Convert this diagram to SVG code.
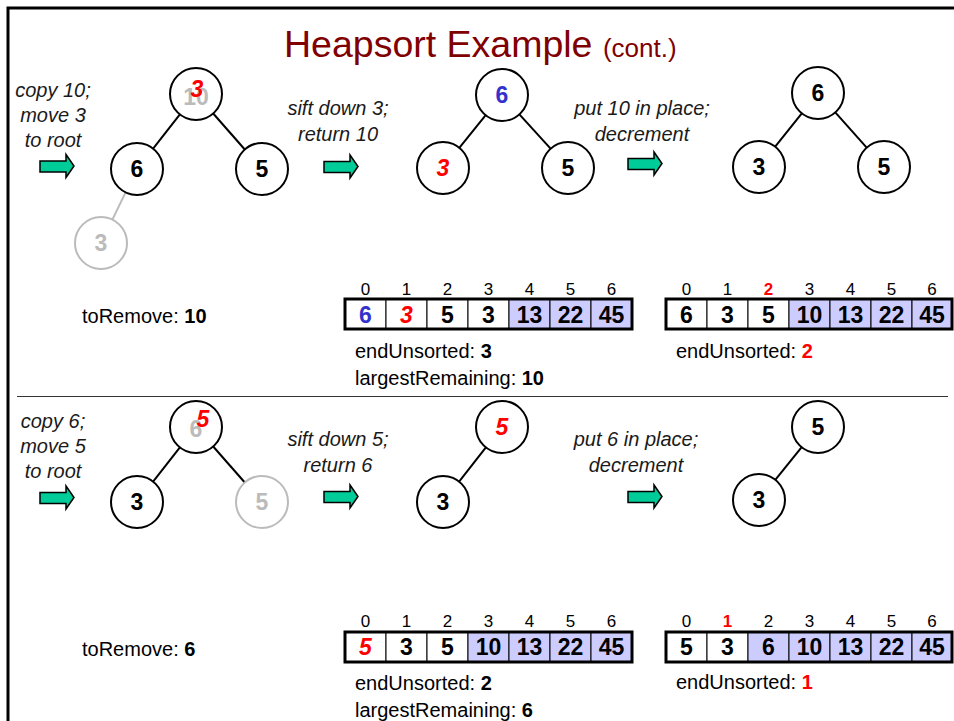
<svg xmlns="http://www.w3.org/2000/svg" width="954" height="721" viewBox="0 0 954 721">
<style>
text{font-family:"Liberation Sans",Arial,sans-serif}
.lbl{font-size:20px;font-style:italic;fill:#1a1a1a;text-anchor:middle}
.nd{fill:#fff;stroke:#000;stroke-width:2}
.ndg{fill:#fff;stroke:#bbb;stroke-width:2}
.nt{font-size:23px;font-weight:bold;text-anchor:middle;fill:#000}
.edge{stroke:#000;stroke-width:2;fill:none}
.edgeg{stroke:#bbb;stroke-width:2;fill:none}
.txt{font-size:20px;fill:#000}
.idx{font-size:17px;text-anchor:middle;fill:#000}
.val{font-size:23px;font-weight:bold;text-anchor:middle;fill:#000}
.cell{fill:#fff;stroke:#000;stroke-width:1}
.cellf{fill:#ccccff;stroke:#000;stroke-width:1}
.outer{fill:none;stroke:#000;stroke-width:3}
.b{font-weight:bold}
.it{font-style:italic}
.gray{fill:#bbb}
.red{fill:#ff0000}
.blue{fill:#3333cc}
</style>
<defs>
<path id="arr" d="M0,-5.5 H26 V-12 L34,-0.5 L26,11 V5.5 H0 Z" fill="#00cc99" stroke="#000" stroke-width="1.5"/>
</defs>

<!-- frame -->
<path d="M8,721 V8 H954" fill="none" stroke="#000" stroke-width="3"/>
<line x1="17" y1="396.5" x2="948" y2="396.5" stroke="#333" stroke-width="1"/>

<!-- title -->
<text x="284" y="57" font-size="37.5" fill="#800000">Heapsort Example <tspan font-size="26">(cont.)</tspan></text>

<!-- arrows -->
<g id="arrows">
<use href="#arr" x="40" y="166.5"/>
<use href="#arr" x="324" y="167"/>
<use href="#arr" x="628" y="164"/>
<use href="#arr" x="40" y="498"/>
<use href="#arr" x="324" y="497"/>
<use href="#arr" x="628" y="497"/>
</g>

<!-- step labels -->
<g id="labels">
<text class="lbl" x="53" y="97">copy 10;</text>
<text class="lbl" x="53" y="122">move 3</text>
<text class="lbl" x="53" y="147">to root</text>
<text class="lbl" x="338" y="115">sift down 3;</text>
<text class="lbl" x="338" y="141">return 10</text>
<text class="lbl" x="642" y="115">put 10 in place;</text>
<text class="lbl" x="642" y="141">decrement</text>
<text class="lbl" x="53" y="428">copy 6;</text>
<text class="lbl" x="53" y="453">move 5</text>
<text class="lbl" x="53" y="478">to root</text>
<text class="lbl" x="338" y="446">sift down 5;</text>
<text class="lbl" x="338" y="472">return 6</text>
<text class="lbl" x="636" y="446">put 6 in place;</text>
<text class="lbl" x="636" y="472">decrement</text>
</g>

<!-- connectors -->
<g id="connectors">
<line class="edge" x1="179.9" y1="114.4" x2="153.1" y2="148.6"/>
<line class="edge" x1="213.2" y1="113.5" x2="244.8" y2="149.5"/>
<line class="edgeg" x1="125.6" y1="192.4" x2="112.4" y2="219.6"/>
<line class="edge" x1="485.7" y1="115.2" x2="459.3" y2="147.8"/>
<line class="edge" x1="519.4" y1="114.3" x2="550.6" y2="148.7"/>
<line class="edge" x1="801.8" y1="113.3" x2="775.2" y2="146.7"/>
<line class="edge" x1="835.3" y1="112.4" x2="866.7" y2="147.6"/>
<line class="edge" x1="179.9" y1="447.4" x2="153.1" y2="481.6"/>
<line class="edge" x1="213.2" y1="446.5" x2="244.8" y2="482.5"/>
<line class="edge" x1="485.9" y1="447.4" x2="459.1" y2="481.6"/>
<line class="edge" x1="801.7" y1="447.2" x2="775.3" y2="479.8"/>
</g>

<!-- top tree 1 -->
<g id="t1-root"><circle class="nd" cx="196" cy="94" r="26"/><text class="nt gray" x="196" y="105">10</text><text class="nt red it" x="197" y="97">3</text></g>
<g id="t1-l"><circle class="nd" cx="137" cy="169" r="26"/><text class="nt" x="137" y="177">6</text></g>
<g id="t1-r"><circle class="nd" cx="262" cy="169" r="26"/><text class="nt" x="262" y="177">5</text></g>
<g id="t1-g"><circle class="ndg" cx="101" cy="243" r="26"/><text class="nt gray" x="101" y="251">3</text></g>

<!-- top tree 2 -->
<g id="t2-root"><circle class="nd" cx="502" cy="95" r="26"/><text class="nt blue" x="502" y="103">6</text></g>
<g id="t2-l"><circle class="nd" cx="443" cy="168" r="26"/><text class="nt red it" x="443" y="176">3</text></g>
<g id="t2-r"><circle class="nd" cx="568" cy="168" r="26"/><text class="nt" x="568" y="176">5</text></g>

<!-- top tree 3 -->
<g id="t3-root"><circle class="nd" cx="818" cy="93" r="26"/><text class="nt" x="818" y="101">6</text></g>
<g id="t3-l"><circle class="nd" cx="759" cy="167" r="26"/><text class="nt" x="759" y="175">3</text></g>
<g id="t3-r"><circle class="nd" cx="884" cy="167" r="26"/><text class="nt" x="884" y="175">5</text></g>

<!-- bottom tree 1 -->
<g id="b1-root"><circle class="nd" cx="196" cy="427" r="26"/><text class="nt gray" x="196" y="437">6</text><text class="nt red it" x="203" y="427">5</text></g>
<g id="b1-l"><circle class="nd" cx="137" cy="502" r="26"/><text class="nt" x="137" y="510">3</text></g>
<g id="b1-r"><circle class="ndg" cx="262" cy="502" r="26"/><text class="nt gray" x="262" y="510">5</text></g>

<!-- bottom tree 2 -->
<g id="b2-root"><circle class="nd" cx="502" cy="427" r="26"/><text class="nt red it" x="502" y="435">5</text></g>
<g id="b2-l"><circle class="nd" cx="443" cy="502" r="26"/><text class="nt" x="443" y="510">3</text></g>

<!-- bottom tree 3 -->
<g id="b3-root"><circle class="nd" cx="818" cy="427" r="26"/><text class="nt" x="818" y="435">5</text></g>
<g id="b3-l"><circle class="nd" cx="759" cy="500" r="26"/><text class="nt" x="759" y="508">3</text></g>

<!-- toRemove -->
<g id="toremove1"><text class="txt" x="82" y="323">toRemove: <tspan class="b">10</tspan></text></g>
<g id="toremove2"><text class="txt" x="82" y="656">toRemove: <tspan class="b">6</tspan></text></g>

<!-- array 1 -->
<g id="array1">
<rect class="cell" x="345" y="299" width="41" height="30"/>
<rect class="cell" x="386" y="299" width="41" height="30"/>
<rect class="cell" x="427" y="299" width="41" height="30"/>
<rect class="cell" x="468" y="299" width="41" height="30"/>
<rect class="cellf" x="509" y="299" width="41" height="30"/>
<rect class="cellf" x="550" y="299" width="41" height="30"/>
<rect class="cellf" x="591" y="299" width="41" height="30"/>
<rect class="outer" x="345" y="299" width="287" height="30"/>
<text class="idx" x="365.5" y="295">0</text><text class="idx" x="406.5" y="295">1</text><text class="idx" x="447.5" y="295">2</text><text class="idx" x="488.5" y="295">3</text><text class="idx" x="529.5" y="295">4</text><text class="idx" x="570.5" y="295">5</text><text class="idx" x="611.5" y="295">6</text>
<text class="val blue" x="365.5" y="323">6</text><text class="val red it" x="406.5" y="323">3</text><text class="val" x="447.5" y="323">5</text><text class="val" x="488.5" y="323">3</text><text class="val" x="529.5" y="323">13</text><text class="val" x="570.5" y="323">22</text><text class="val" x="611.5" y="323">45</text>
<text class="txt" x="355" y="358">endUnsorted: <tspan class="b">3</tspan></text>
<text class="txt" x="355" y="385">largestRemaining: <tspan class="b">10</tspan></text>
</g>

<!-- array 2 -->
<g id="array2">
<rect class="cell" x="666" y="299" width="41" height="30"/>
<rect class="cell" x="707" y="299" width="41" height="30"/>
<rect class="cell" x="748" y="299" width="41" height="30"/>
<rect class="cellf" x="789" y="299" width="41" height="30"/>
<rect class="cellf" x="830" y="299" width="41" height="30"/>
<rect class="cellf" x="871" y="299" width="41" height="30"/>
<rect class="cellf" x="912" y="299" width="40" height="30"/>
<rect class="outer" x="666" y="299" width="286" height="30"/>
<text class="idx" x="686.5" y="295">0</text><text class="idx" x="727.5" y="295">1</text><text class="idx red b" x="768.5" y="295">2</text><text class="idx" x="809.5" y="295">3</text><text class="idx" x="850.5" y="295">4</text><text class="idx" x="891.5" y="295">5</text><text class="idx" x="932" y="295">6</text>
<text class="val" x="686.5" y="323">6</text><text class="val" x="727.5" y="323">3</text><text class="val" x="768.5" y="323">5</text><text class="val" x="809.5" y="323">10</text><text class="val" x="850.5" y="323">13</text><text class="val" x="891.5" y="323">22</text><text class="val" x="932" y="323">45</text>
<text class="txt" x="676" y="358">endUnsorted: <tspan class="b red">2</tspan></text>
</g>

<!-- array 3 -->
<g id="array3">
<rect class="cell" x="345" y="632" width="41" height="30"/>
<rect class="cell" x="386" y="632" width="41" height="30"/>
<rect class="cell" x="427" y="632" width="41" height="30"/>
<rect class="cellf" x="468" y="632" width="41" height="30"/>
<rect class="cellf" x="509" y="632" width="41" height="30"/>
<rect class="cellf" x="550" y="632" width="41" height="30"/>
<rect class="cellf" x="591" y="632" width="41" height="30"/>
<rect class="outer" x="345" y="632" width="287" height="30"/>
<text class="idx" x="365.5" y="627">0</text><text class="idx" x="406.5" y="627">1</text><text class="idx" x="447.5" y="627">2</text><text class="idx" x="488.5" y="627">3</text><text class="idx" x="529.5" y="627">4</text><text class="idx" x="570.5" y="627">5</text><text class="idx" x="611.5" y="627">6</text>
<text class="val red it" x="365.5" y="655">5</text><text class="val" x="406.5" y="655">3</text><text class="val" x="447.5" y="655">5</text><text class="val" x="488.5" y="655">10</text><text class="val" x="529.5" y="655">13</text><text class="val" x="570.5" y="655">22</text><text class="val" x="611.5" y="655">45</text>
<text class="txt" x="355" y="690">endUnsorted: <tspan class="b">2</tspan></text>
<text class="txt" x="355" y="717">largestRemaining: <tspan class="b">6</tspan></text>
</g>

<!-- array 4 -->
<g id="array4">
<rect class="cell" x="666" y="632" width="41" height="30"/>
<rect class="cell" x="707" y="632" width="41" height="30"/>
<rect class="cellf" x="748" y="632" width="41" height="30"/>
<rect class="cellf" x="789" y="632" width="41" height="30"/>
<rect class="cellf" x="830" y="632" width="41" height="30"/>
<rect class="cellf" x="871" y="632" width="41" height="30"/>
<rect class="cellf" x="912" y="632" width="40" height="30"/>
<rect class="outer" x="666" y="632" width="286" height="30"/>
<text class="idx" x="686.5" y="627">0</text><text class="idx red b" x="727.5" y="627">1</text><text class="idx" x="768.5" y="627">2</text><text class="idx" x="809.5" y="627">3</text><text class="idx" x="850.5" y="627">4</text><text class="idx" x="891.5" y="627">5</text><text class="idx" x="932" y="627">6</text>
<text class="val" x="686.5" y="655">5</text><text class="val" x="727.5" y="655">3</text><text class="val" x="768.5" y="655">6</text><text class="val" x="809.5" y="655">10</text><text class="val" x="850.5" y="655">13</text><text class="val" x="891.5" y="655">22</text><text class="val" x="932" y="655">45</text>
<text class="txt" x="676" y="689">endUnsorted: <tspan class="b red">1</tspan></text>
</g>
</svg>
